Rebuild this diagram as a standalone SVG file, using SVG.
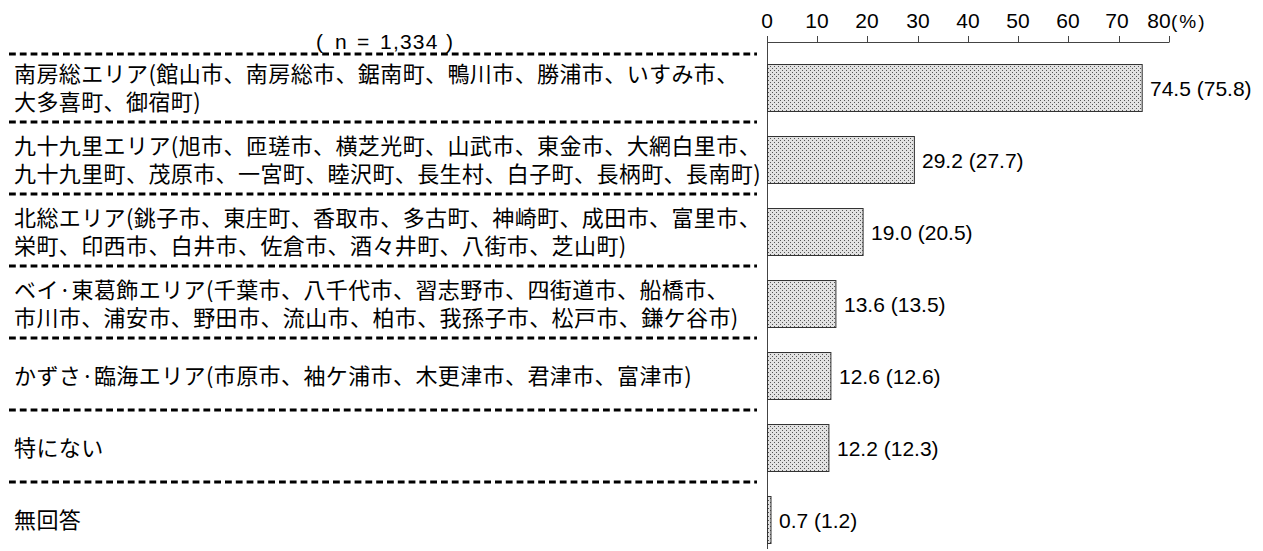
<svg xmlns="http://www.w3.org/2000/svg" width="1263" height="551" viewBox="0 0 1263 551">
<style>
.lbl{font-family:"Noto Sans CJK JP","Noto Sans",sans-serif;font-size:22px;letter-spacing:0.4px;fill:#000}
.num{font-family:"Liberation Sans",Arial,sans-serif;font-size:21px;fill:#000}
.ax{font-family:"Liberation Sans",Arial,sans-serif;font-size:21px;fill:#000;text-anchor:middle}
.dash{stroke:#000;stroke-width:3;stroke-dasharray:6.8 4;fill:none}
.axis{stroke:#444;stroke-width:1;fill:none}
.bar{fill:url(#dots);stroke:#333;stroke-width:1}
</style>
<defs>
<pattern id="dots" width="4" height="4" patternUnits="userSpaceOnUse">
<rect width="4" height="4" fill="#e2e2e2"/>
<rect x="0" y="0" width="1" height="1" fill="#555"/>
<rect x="2" y="2" width="1" height="1" fill="#555"/>
</pattern>
</defs>
<rect width="1263" height="551" fill="#fff"/>
<g id="axis">
<line class="axis" x1="767.5" y1="42.5" x2="1169.5" y2="42.5"/>
<line class="axis" x1="767.5" y1="36" x2="767.5" y2="549"/>
<line class="axis" x1="817.5" y1="36" x2="817.5" y2="42"/>
<line class="axis" x1="867.5" y1="36" x2="867.5" y2="42"/>
<line class="axis" x1="918.5" y1="36" x2="918.5" y2="42"/>
<line class="axis" x1="968.5" y1="36" x2="968.5" y2="42"/>
<line class="axis" x1="1018.5" y1="36" x2="1018.5" y2="42"/>
<line class="axis" x1="1068.5" y1="36" x2="1068.5" y2="42"/>
<line class="axis" x1="1119.5" y1="36" x2="1119.5" y2="42"/>
<line class="axis" x1="1169.5" y1="36" x2="1169.5" y2="42"/>
<text class="ax" x="767" y="28">0</text>
<text class="ax" x="817" y="28">10</text>
<text class="ax" x="867" y="28">20</text>
<text class="ax" x="918" y="28">30</text>
<text class="ax" x="968" y="28">40</text>
<text class="ax" x="1018" y="28">50</text>
<text class="ax" x="1068" y="28">60</text>
<text class="ax" x="1117" y="28">70</text>
<text class="ax" x="1159" y="28">80</text>
<text class="num" x="1171" y="28" style="font-size:19px;letter-spacing:2px">(%)</text>
</g>
<text class="num" y="49"><tspan x="316">(</tspan><tspan x="335">n</tspan><tspan x="357">=</tspan><tspan x="380" style="letter-spacing:1.2px">1,334</tspan><tspan x="446">)</tspan></text>
<g id="connectors">
<line class="dash" x1="9" y1="54" x2="757" y2="54"/>
<line class="dash" x1="9" y1="122" x2="757" y2="122"/>
<line class="dash" x1="9" y1="194" x2="757" y2="194"/>
<line class="dash" x1="9" y1="266" x2="757" y2="266"/>
<line class="dash" x1="9" y1="338" x2="757" y2="338"/>
<line class="dash" x1="9" y1="410" x2="757" y2="410"/>
<line class="dash" x1="9" y1="482" x2="757" y2="482"/>
</g>
<g id="row1">
<text class="lbl" x="14" y="82">南房総エリア(館山市、南房総市、鋸南町、鴨川市、勝浦市、いすみ市、</text>
<text class="lbl" x="14" y="110">大多喜町、御宿町)</text>
<rect class="bar" x="767.5" y="64.5" width="374.7" height="47"/>
<text class="num" x="1150" y="95.5">74.5 (75.8)</text>
</g>
<g id="row2">
<text class="lbl" x="14" y="154">九十九里エリア(旭市、匝瑳市、横芝光町、山武市、東金市、大網白里市、</text>
<text class="lbl" x="14" y="182">九十九里町、茂原市、一宮町、睦沢町、長生村、白子町、長柄町、長南町)</text>
<rect class="bar" x="767.5" y="136.5" width="146.9" height="47"/>
<text class="num" x="922" y="167.5">29.2 (27.7)</text>
</g>
<g id="row3">
<text class="lbl" x="14" y="226">北総エリア(銚子市、東庄町、香取市、多古町、神崎町、成田市、富里市、</text>
<text class="lbl" x="14" y="254">栄町、印西市、白井市、佐倉市、酒々井町、八街市、芝山町)</text>
<rect class="bar" x="767.5" y="208.5" width="95.6" height="47"/>
<text class="num" x="871" y="239.5">19.0 (20.5)</text>
</g>
<g id="row4">
<text class="lbl" x="14" y="298">ベイ·東葛飾エリア(千葉市、八千代市、習志野市、四街道市、船橋市、</text>
<text class="lbl" x="14" y="326">市川市、浦安市、野田市、流山市、柏市、我孫子市、松戸市、鎌ケ谷市)</text>
<rect class="bar" x="767.5" y="280.5" width="68.4" height="47"/>
<text class="num" x="844" y="311.5">13.6 (13.5)</text>
</g>
<g id="row5">
<text class="lbl" x="14" y="384">かずさ·臨海エリア(市原市、袖ケ浦市、木更津市、君津市、富津市)</text>
<rect class="bar" x="767.5" y="352.5" width="63.4" height="47"/>
<text class="num" x="839" y="383.5">12.6 (12.6)</text>
</g>
<g id="row6">
<text class="lbl" x="14" y="456">特にない</text>
<rect class="bar" x="767.5" y="424.5" width="61.4" height="47"/>
<text class="num" x="837" y="455.5">12.2 (12.3)</text>
</g>
<g id="row7">
<text class="lbl" x="14" y="528">無回答</text>
<rect class="bar" x="767.5" y="496.5" width="3.5" height="47"/>
<text class="num" x="779" y="527.5">0.7 (1.2)</text>
</g>
</svg>
